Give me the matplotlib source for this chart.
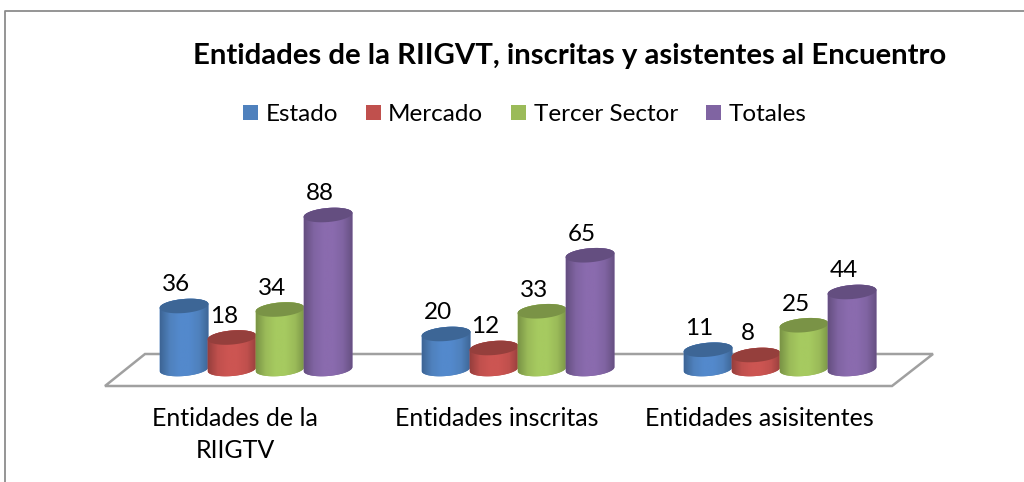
import matplotlib
matplotlib.use("Agg")
import matplotlib.pyplot as plt
import numpy as np
from matplotlib.patches import Patch, PathPatch, Polygon
from matplotlib.path import Path
from matplotlib.colors import LinearSegmentedColormap

plt.rcParams['font.family'] = ['Lato', 'DejaVu Sans']

title = "Entidades de la RIIGVT, inscritas y asistentes al Encuentro"
categories = ["Entidades de la\nRIIGTV", "Entidades inscritas", "Entidades asisitentes"]
series = ["Estado", "Mercado", "Tercer Sector", "Totales"]
estado = [36, 20, 11]
mercado = [18, 12, 8]
tercer = [34, 33, 25]
totales = [88, 65, 44]
values = [estado, mercado, tercer, totales]
colors = ["#4F81BD", "#C0504D", "#9BBB59", "#8064A2"]
mids = ["#5389CC", "#CC5552", "#A6CA60", "#8A6BAE"]
edges = ["#3D6595", "#973F3D", "#7A9446", "#654F80"]
tops = ["#3D6696", "#953F3C", "#7A9346", "#644E80"]

W, H = 1024, 482
PX_X0, PX_SP = 256.0, 262.0     # pixel x of first group, pixel spacing
PX_Y0, PX_U = 369.0, 1.75       # pixel y of zero, pixels per unit
BW = 48.0
A, B, TILT = 24.5, 7.0, np.deg2rad(5)

fig = plt.figure(figsize=(W / 100, H / 100), dpi=100)
ax = fig.add_axes([0, 0, 1, 1])
xlim = (-PX_X0 / PX_SP, (W - PX_X0) / PX_SP)
ylim = ((PX_Y0 - H) / PX_U, PX_Y0 / PX_U)
ax.axis("off")


def P(x, y):
    return (x / W, 1 - y / H)


# outer frame: left and top edges only are visible
ax.add_line(plt.Line2D([P(5, 0)[0], P(5, 0)[0], 1], [0, P(0, 11)[1], P(0, 11)[1]],
                       transform=ax.transAxes, color="#8C8C8C", lw=1.3))

# floor
ax.add_patch(Polygon([P(105, 386), P(892, 386), P(933, 354), P(145, 354)], closed=True, fill=False,
                     edgecolor="#A0A0A0", lw=1.8, transform=ax.transAxes, zorder=1))


def ell(cx, cyv, t):
    """point(s) on the tilted ellipse, offset in pixels around a data position"""
    dx = A * np.cos(t) * np.cos(TILT) + B * np.sin(t) * np.sin(TILT)
    dy = A * np.cos(t) * np.sin(TILT) - B * np.sin(t) * np.cos(TILT)
    return cx + dx / PX_SP, cyv + dy / PX_U


z = 2
for i in range(len(categories)):
    for j, name in enumerate(series):
        v = values[j][i]
        cx = i + (j - 1.5) * BW / PX_SP
        # body outline: lower half of base ellipse, then upper half of top ellipse
        bx, by = ell(cx, 0, np.linspace(np.pi, 0, 60))
        tx, ty = ell(cx, v, np.linspace(2 * np.pi, np.pi, 60))
        verts = np.r_[np.c_[bx, by], np.c_[tx, ty], [[bx[0], by[0]]]]
        codes = [Path.MOVETO] + [Path.LINETO] * (len(verts) - 2) + [Path.CLOSEPOLY]
        body = PathPatch(Path(verts, codes), facecolor=colors[j], edgecolor="none", zorder=z)
        ax.add_patch(body)
        cmap = LinearSegmentedColormap.from_list("c", [edges[j], colors[j], mids[j], mids[j], colors[j], edges[j]])
        x0, x1 = cx - A / PX_SP, cx + A / PX_SP
        im = ax.imshow(np.linspace(0, 1, 128)[None, :], cmap=cmap, aspect="auto",
                       extent=[x0, x1, -10, v + 10], zorder=z + 0.1)
        im.set_clip_path(body)
        ex, ey = ell(cx, v, np.linspace(0, 2 * np.pi, 100))
        ax.fill(ex, ey, color=tops[j], lw=0, zorder=z + 0.2)
        ax.annotate(str(v), (cx, v), xytext=(-6, 15.2), textcoords="offset points", ha="center", va="center",
                    fontsize=17.5, color="black", zorder=20)
        z += 1

ax.set_xlim(*xlim)
ax.set_ylim(*ylim)

for i, c in enumerate(categories):
    lines = c.split("\n")
    for k, line in enumerate(lines):
        ax.text(i - 21 / PX_SP, (PX_Y0 - 419 - 32 * k) / PX_U, line, ha="center", va="center", fontsize=18)

ax.text(*P(570, 56), title, transform=ax.transAxes, ha="center", va="center", fontsize=21.2, fontweight="bold")

handles = [Patch(facecolor=c, label=s) for c, s in zip(colors, series)]
ax.legend(handles=handles, loc="center", bbox_to_anchor=P(524.5, 114.5), ncols=4, frameon=False,
          fontsize=17.5, handlelength=0.62, handleheight=0.62, handletextpad=0.3, columnspacing=1.15,
          borderpad=0, borderaxespad=0)

fig.savefig("out.png", dpi=100)
